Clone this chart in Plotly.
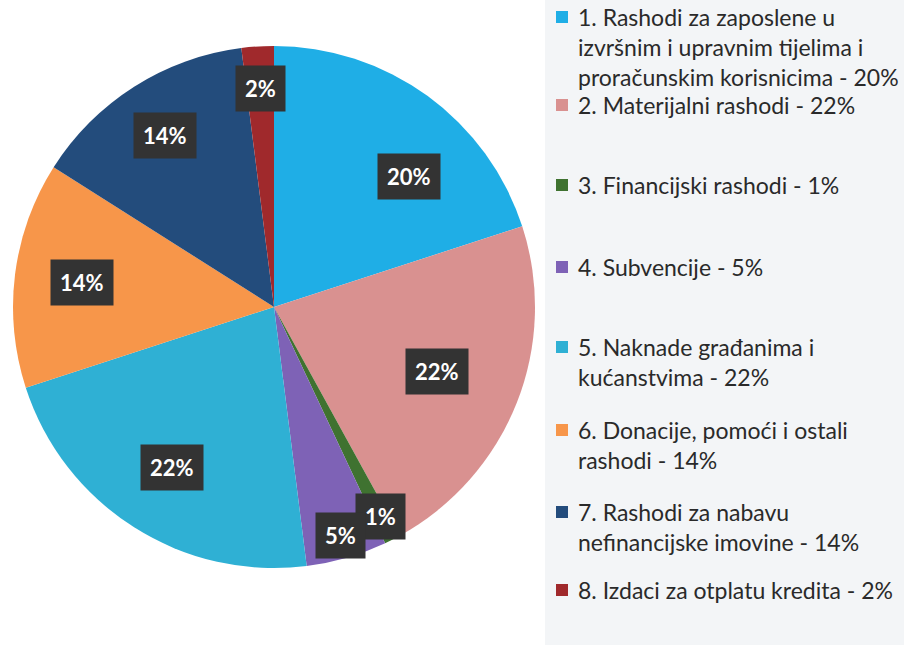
import math
import plotly.graph_objects as go

# ---- data ----
categories = [
    "1. Rashodi za zaposlene u<br>izvršnim i upravnim tijelima i<br>proračunskim korisnicima",
    "2. Materijalni rashodi",
    "3. Financijski rashodi",
    "4. Subvencije",
    "5. Naknade građanima i<br>kućanstvima",
    "6. Donacije, pomoći i ostali<br>rashodi",
    "7. Rashodi za nabavu<br>nefinancijske imovine",
    "8. Izdaci za otplatu kredita",
]
values = [20, 22, 1, 5, 22, 14, 14, 2]

colors = ["#1faee6", "#d99190", "#3f7230", "#7e62b6", "#2fb0d4", "#f7964a", "#234c7c", "#a0292c"]

# ---- layout constants (pixels) ----
W, H = 904, 645
CX, CY, R = 274, 307, 261
label_r = [0.72, 0.67, 0.90, 0.91, 0.73, 0.74, 0.78, 0.84]
label_shift_deg = [10, 0, 0, 0, 0, 0, 0, 0]
legend_first_line_y = [17, 105, 185, 267, 347, 430, 512, 590]

dom_x = [(CX - R) / W, (CX + R) / W]
dom_y = [1 - (CY + R) / H, 1 - (CY - R) / H]

fig = go.Figure(go.Pie(
    labels=[c.replace("<br>", " ") for c in categories],
    values=values,
    sort=False,
    direction="clockwise",
    rotation=0,
    marker=dict(colors=colors, line=dict(width=0)),
    textinfo="none",
    hoverinfo="label+percent",
    showlegend=False,
    domain=dict(x=dom_x, y=dom_y),
))

annotations = []
shapes = []

# legend background
shapes.append(dict(type="rect", xref="paper", yref="paper",
                   x0=545 / W, x1=1, y0=0, y1=1,
                   fillcolor="#f3f5f7", line=dict(width=0), layer="below"))

# data labels
total = sum(values)
cum = 0
for i, v in enumerate(values):
    mid = (cum + v / 2) / total * 360 + label_shift_deg[i]
    cum += v
    rr = R * label_r[i]
    px = CX + rr * math.sin(math.radians(mid))
    py = CY - rr * math.cos(math.radians(mid))
    pct = round(v / total * 100)
    annotations.append(dict(
        x=px / W, y=1 - py / H, xref="paper", yref="paper",
        text=f"{pct}%", showarrow=False,
        font=dict(family="Lato", size=22, color="white", weight="bold"),
        bgcolor="#333333", borderpad=9,
        xanchor="center", yanchor="middle",
    ))

# legend entries
for i, (c, v) in enumerate(zip(categories, values)):
    ey = legend_first_line_y[i]
    pct = round(v / total * 100)
    annotations.append(dict(
        x=576 / W, y=1 - (ey - 16) / H, xref="paper", yref="paper",
        text=f"{c} - {pct}%", showarrow=False, align="left",
        xanchor="left", yanchor="top",
        font=dict(family="Lato", size=23, color="#2a2a2a"),
    ))
    shapes.append(dict(type="rect", xref="paper", yref="paper",
                       x0=556 / W, x1=568 / W,
                       y0=1 - (ey + 6) / H, y1=1 - (ey - 6) / H,
                       fillcolor=colors[i], line=dict(width=0)))

fig.update_layout(
    width=W, height=H,
    margin=dict(l=0, r=0, t=0, b=0),
    paper_bgcolor="white",
    plot_bgcolor="white",
    annotations=annotations,
    shapes=shapes,
)

fig.write_html(
    "out.html",
    config={"displayModeBar": False},
    post_script="document.body.style.margin='0';document.body.style.overflow='hidden';",
)
